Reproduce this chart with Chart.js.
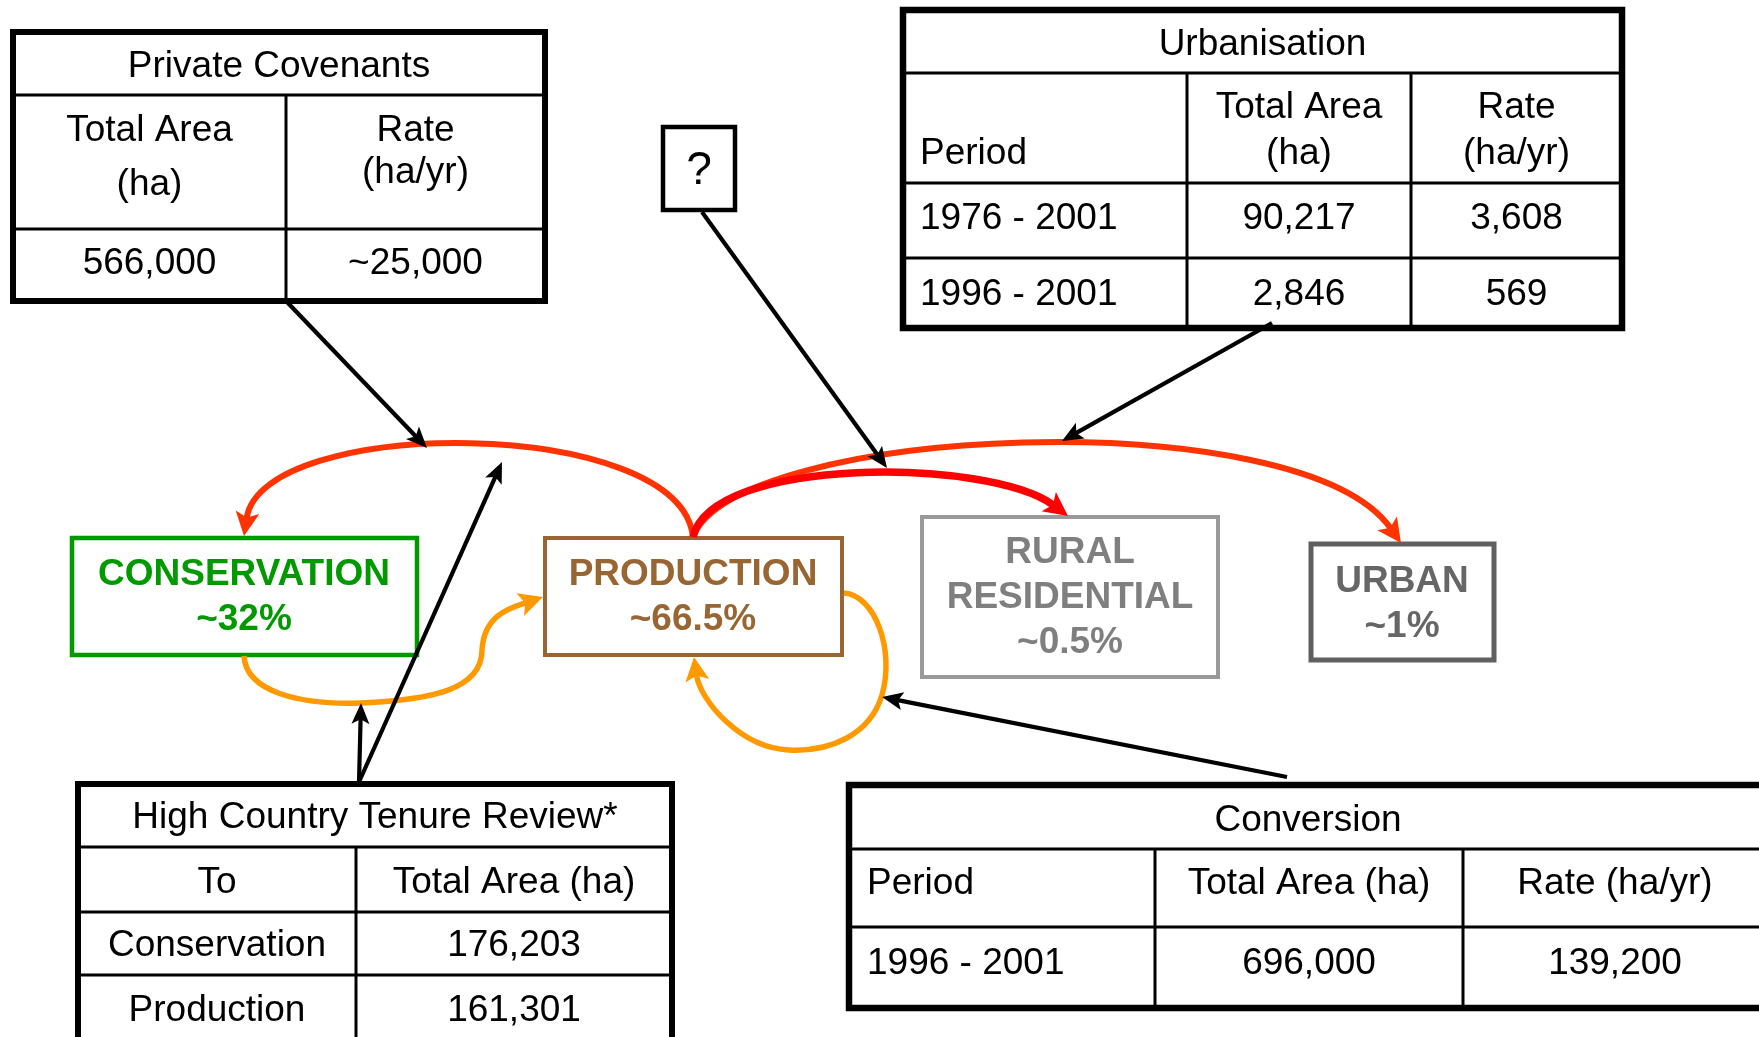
<!DOCTYPE html>
<html>
<head>
<meta charset="utf-8">
<title>Land use flows</title>
<script src="https://cdn.jsdelivr.net/npm/chart.js@4.4.1/dist/chart.umd.min.js"></script>
<style>
    html, body { margin: 0; padding: 0; background: #fff; overflow: hidden; }
    canvas { display: block; }
</style>
</head>
<body>
<canvas id="landUseChart" width="1759" height="1037"></canvas>
<script>
// Land use classes and their share of land
const landUseNames = [['CONSERVATION'], ['PRODUCTION'], ['RURAL', 'RESIDENTIAL'], ['URBAN']];
const landUseShares = [32, 66.5, 0.5, 1];

// Private covenants
const covenantTitle = 'Private Covenants';
const covenantHeaders = [['Total Area', '(ha)'], ['Rate', '(ha/yr)']];
const covenantValues = ['566,000', '~25,000'];

// Urbanisation
const urbanTitle = 'Urbanisation';
const urbanHeaders = [['Period'], ['Total Area', '(ha)'], ['Rate', '(ha/yr)']];
const urbanPeriods = ['1976 - 2001', '1996 - 2001'];
const urbanAreas = ['90,217', '2,846'];
const urbanRates = ['3,608', '569'];

// High Country Tenure Review
const tenureTitle = 'High Country Tenure Review*';
const tenureHeaders = ['To', 'Total Area (ha)'];
const tenureTo = ['Conservation', 'Production'];
const tenureAreas = ['176,203', '161,301'];

// Conversion
const conversionTitle = 'Conversion';
const conversionHeaders = ['Period', 'Total Area (ha)', 'Rate (ha/yr)'];
const conversionPeriods = ['1996 - 2001'];
const conversionAreas = ['696,000'];
const conversionRates = ['139,200'];

const unknownLabel = '?';

// ---- layout (diagram units = canvas pixels of the 1759 x 1037 frame) ----
const FONT = '"Liberation Sans", Arial, Helvetica, sans-serif';
const TXT = 37;

const boxLayout = [
    { x0: 72, y0: 538, x1: 417, y1: 655, border: '#009900', text: '#009900', lw: 4.5, cx: 244, lines: [585, 630] },
    { x0: 545, y0: 538, x1: 842, y1: 655, border: '#996633', text: '#996633', lw: 4, cx: 693, lines: [585, 630] },
    { x0: 922, y0: 517, x1: 1218, y1: 677, border: '#999999', text: '#7f7f7f', lw: 4, cx: 1070, lines: [563, 608, 653] },
    { x0: 1311, y0: 544, x1: 1494, y1: 660, border: '#606060', text: '#666666', lw: 5, cx: 1402, lines: [592, 637] }
];

const tableLayout = {
    covenant: { x0: 13, y0: 32, x1: 545, y1: 301, h: [95, 229], v: [286], vTop: 95 },
    urban: { x0: 903, y0: 10, x1: 1622, y1: 328, h: [73, 183, 258], v: [1187, 1411], vTop: 73 },
    tenure: { x0: 78, y0: 784, x1: 672, y1: 1060, h: [847, 912, 975], v: [356], vTop: 847 },
    conversion: { x0: 849, y0: 785, x1: 1790, y1: 1008, h: [849, 927], v: [1155, 1463], vTop: 849 }
};

const questionBox = { x0: 663, y0: 127, x1: 735, y1: 210 };

// flow curves: chains of cubic bezier points, arrow at the end
const flowCurves = [
    { color: '#ff3300', width: 6, pts: [[693, 537], [680, 415], [262, 415], [244, 536]] },
    { color: '#ff3300', width: 6, pts: [[693, 537], [735, 425], [1300, 400], [1401, 543]] },
    { color: '#ff0000', width: 7.5, pts: [[693, 537], [712, 455], [990, 458], [1068, 516]] },
    { color: '#ff9900', width: 5.5, pts: [[244, 656], [246, 692], [300, 705], [361, 703], [430, 700], [482, 690], [482, 650], [484, 615], [510, 608], [543, 597]] },
    { color: '#ff9900', width: 5.5, pts: [[844, 593], [875, 595], [895, 650], [882, 695], [870, 735], [830, 752], [789, 750], [740, 748], [700, 700], [694, 657]] }
];

const pointerArrows = [
    [[287, 302], [427, 448]],
    [[702, 212], [887, 468]],
    [[1272, 323], [1062, 441]],
    [[359, 782], [361, 703]],
    [[359, 782], [502, 462]],
    [[1287, 777], [882, 697]]
];

const diagramPlugin = {
    id: 'landUseDiagram',
    afterDatasetsDraw(chart) {
        const ctx = chart.ctx;
        const sx = chart.scales.x, sy = chart.scales.y;
        const px = v => sx.getPixelForValue(v);
        const py = v => sy.getPixelForValue(v);

        function text(str, x, y, align, size, weight, color) {
            ctx.font = weight + ' ' + size + 'px ' + FONT;
            ctx.textAlign = align;
            ctx.textBaseline = 'alphabetic';
            ctx.fillStyle = color;
            ctx.fillText(str, px(x), py(y));
        }

        function grid(t, outer, inner) {
            ctx.fillStyle = '#fff';
            ctx.fillRect(px(t.x0), py(t.y0), px(t.x1) - px(t.x0), py(t.y1) - py(t.y0));
            ctx.strokeStyle = '#000';
            ctx.lineWidth = inner;
            ctx.beginPath();
            t.h.forEach(y => { ctx.moveTo(px(t.x0), py(y)); ctx.lineTo(px(t.x1), py(y)); });
            t.v.forEach(x => { ctx.moveTo(px(x), py(t.vTop)); ctx.lineTo(px(x), py(t.y1)); });
            ctx.stroke();
            ctx.lineWidth = outer;
            ctx.strokeRect(px(t.x0), py(t.y0), px(t.x1) - px(t.x0), py(t.y1) - py(t.y0));
        }

        function arrowHead(tip, from, len, half, color) {
            const a = Math.atan2(py(tip[1]) - py(from[1]), px(tip[0]) - px(from[0]));
            const tx = px(tip[0]), ty = py(tip[1]);
            const bx = tx - len * Math.cos(a), by = ty - len * Math.sin(a);
            const nx = -Math.sin(a), ny = Math.cos(a);
            const notch = len * 0.22;
            ctx.fillStyle = color;
            ctx.beginPath();
            ctx.moveTo(tx, ty);
            ctx.lineTo(bx + nx * half, by + ny * half);
            ctx.lineTo(bx + notch * Math.cos(a), by + notch * Math.sin(a));
            ctx.lineTo(bx - nx * half, by - ny * half);
            ctx.closePath();
            ctx.fill();
        }

        ctx.save();
        ctx.lineJoin = 'miter';

        // land use boxes
        boxLayout.forEach((b, i) => {
            ctx.strokeStyle = b.border;
            ctx.lineWidth = b.lw;
            ctx.strokeRect(px(b.x0), py(b.y0), px(b.x1) - px(b.x0), py(b.y1) - py(b.y0));
            const lines = landUseNames[i].concat(['~' + landUseShares[i] + '%']);
            lines.forEach((s, k) => text(s, b.cx, b.lines[k], 'center', 37, 'bold', b.text));
        });

        // flow curves
        ctx.lineCap = 'butt';
        flowCurves.forEach(c => {
            const p = c.pts;
            const n = p.length;
            const tip = p[n - 1], cp = p[n - 2];
            const len = 24;
            const d = Math.hypot(tip[0] - cp[0], tip[1] - cp[1]);
            const end = [tip[0] - (tip[0] - cp[0]) / d * (len - 6), tip[1] - (tip[1] - cp[1]) / d * (len - 6)];
            ctx.strokeStyle = c.color;
            ctx.lineWidth = c.width;
            ctx.beginPath();
            ctx.moveTo(px(p[0][0]), py(p[0][1]));
            for (let i = 1; i < n; i += 3) {
                const e = (i + 2 === n - 1) ? end : p[i + 2];
                ctx.bezierCurveTo(px(p[i][0]), py(p[i][1]), px(p[i + 1][0]), py(p[i + 1][1]), px(e[0]), py(e[1]));
            }
            ctx.stroke();
            arrowHead(tip, cp, len, 12, c.color);
        });

        // tables
        const cov = tableLayout.covenant;
        grid(cov, 6, 3);
        text(covenantTitle, (cov.x0 + cov.x1) / 2, 77, 'center', TXT, 'normal', '#000');
        const covCx = [(cov.x0 + cov.v[0]) / 2, (cov.v[0] + cov.x1) / 2];
        text(covenantHeaders[0][0], covCx[0], 141, 'center', TXT, 'normal', '#000');
        text(covenantHeaders[0][1], covCx[0], 195, 'center', TXT, 'normal', '#000');
        text(covenantHeaders[1][0], covCx[1], 141, 'center', TXT, 'normal', '#000');
        text(covenantHeaders[1][1], covCx[1], 183, 'center', TXT, 'normal', '#000');
        covenantValues.forEach((v, i) => text(v, covCx[i], 274, 'center', TXT, 'normal', '#000'));

        const urb = tableLayout.urban;
        grid(urb, 6.5, 3);
        text(urbanTitle, (urb.x0 + urb.x1) / 2, 55, 'center', TXT, 'normal', '#000');
        const urbCx = [(urb.v[0] + urb.v[1]) / 2, (urb.v[1] + urb.x1) / 2];
        text(urbanHeaders[0][0], urb.x0 + 17, 164, 'left', TXT, 'normal', '#000');
        text(urbanHeaders[1][0], urbCx[0], 118, 'center', TXT, 'normal', '#000');
        text(urbanHeaders[1][1], urbCx[0], 164, 'center', TXT, 'normal', '#000');
        text(urbanHeaders[2][0], urbCx[1], 118, 'center', TXT, 'normal', '#000');
        text(urbanHeaders[2][1], urbCx[1], 164, 'center', TXT, 'normal', '#000');
        const urbRows = [229, 305];
        urbanPeriods.forEach((p, i) => {
            text(p, urb.x0 + 17, urbRows[i], 'left', TXT, 'normal', '#000');
            text(urbanAreas[i], urbCx[0], urbRows[i], 'center', TXT, 'normal', '#000');
            text(urbanRates[i], urbCx[1], urbRows[i], 'center', TXT, 'normal', '#000');
        });

        const ten = tableLayout.tenure;
        grid(ten, 6, 3);
        text(tenureTitle, (ten.x0 + ten.x1) / 2, 828, 'center', TXT, 'normal', '#000');
        const tenCx = [(ten.x0 + ten.v[0]) / 2, (ten.v[0] + ten.x1) / 2];
        text(tenureHeaders[0], tenCx[0], 893, 'center', TXT, 'normal', '#000');
        text(tenureHeaders[1], tenCx[1], 893, 'center', TXT, 'normal', '#000');
        const tenRows = [956, 1021];
        tenureTo.forEach((t, i) => {
            text(t, tenCx[0], tenRows[i], 'center', TXT, 'normal', '#000');
            text(tenureAreas[i], tenCx[1], tenRows[i], 'center', TXT, 'normal', '#000');
        });

        const con = tableLayout.conversion;
        grid(con, 6.5, 3);
        text(conversionTitle, 1308, 831, 'center', TXT, 'normal', '#000');
        const conCx = [(con.v[0] + con.v[1]) / 2, 1615];
        text(conversionHeaders[0], con.x0 + 18, 894, 'left', TXT, 'normal', '#000');
        text(conversionHeaders[1], conCx[0], 894, 'center', TXT, 'normal', '#000');
        text(conversionHeaders[2], conCx[1], 894, 'center', TXT, 'normal', '#000');
        conversionPeriods.forEach((p, i) => {
            text(p, con.x0 + 18, 974, 'left', TXT, 'normal', '#000');
            text(conversionAreas[i], conCx[0], 974, 'center', TXT, 'normal', '#000');
            text(conversionRates[i], conCx[1], 974, 'center', TXT, 'normal', '#000');
        });

        // question box
        const q = questionBox;
        ctx.fillStyle = '#fff';
        ctx.fillRect(px(q.x0), py(q.y0), px(q.x1) - px(q.x0), py(q.y1) - py(q.y0));
        ctx.strokeStyle = '#000';
        ctx.lineWidth = 4.5;
        ctx.strokeRect(px(q.x0), py(q.y0), px(q.x1) - px(q.x0), py(q.y1) - py(q.y0));
        text(unknownLabel, (q.x0 + q.x1) / 2, 184, 'center', 46, 'normal', '#000');

        // black pointer arrows
        pointerArrows.forEach(a => {
            const from = a[0], tip = a[1];
            const len = 21;
            const d = Math.hypot(tip[0] - from[0], tip[1] - from[1]);
            const end = [tip[0] - (tip[0] - from[0]) / d * (len - 5), tip[1] - (tip[1] - from[1]) / d * (len - 5)];
            ctx.strokeStyle = '#000';
            ctx.lineWidth = 4.2;
            ctx.beginPath();
            ctx.moveTo(px(from[0]), py(from[1]));
            ctx.lineTo(px(end[0]), py(end[1]));
            ctx.stroke();
            arrowHead(tip, from, len, 9, '#000');
        });

        ctx.restore();
    }
};

const canvasElement = document.getElementById('landUseChart');
new Chart(canvasElement.getContext('2d'), {
    type: 'scatter',
    data: {
        datasets: [{
            label: 'Land use',
            data: boxLayout.map((b, i) => ({ x: b.cx, y: (b.y0 + b.y1) / 2, share: landUseShares[i] })),
            pointRadius: 0,
            pointHoverRadius: 0
        }]
    },
    options: {
        responsive: false,
        animation: false,
        devicePixelRatio: 1,
        layout: { padding: 0 },
        scales: {
            x: { type: 'linear', min: 0, max: 1759, display: false },
            y: { type: 'linear', min: 0, max: 1037, reverse: true, display: false }
        },
        plugins: {
            legend: { display: false },
            tooltip: { enabled: false },
            title: { display: false }
        }
    },
    plugins: [diagramPlugin]
});
</script>
</body>
</html>
